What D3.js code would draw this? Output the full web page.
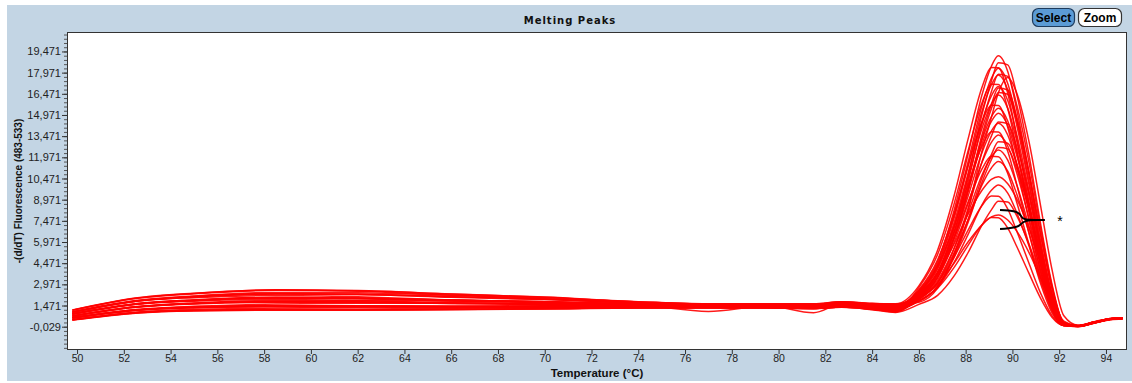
<!DOCTYPE html>
<html>
<head>
<meta charset="utf-8">
<script src="https://cdn.jsdelivr.net/npm/d3@7"></script>
<style>
  html, body { margin: 0; padding: 0; background: #fff; }
  svg { display: block; }
</style>
</head>
<body>
<div id="chart"></div>
<script>
const temps = [49.8, 52.5, 55, 58.5, 62, 66, 70, 74, 77, 79.5, 81.5, 82.7, 84, 85,
  86, 86.8, 87.5, 88.1, 88.7, 89.1, 89.4, 89.8, 90.2, 90.7, 91.2, 91.7, 92.2,
  92.8, 93.5, 94.2, 94.7];

// -(d/dT) fluorescence, one array per sample
const s01 = [.88,1.60,1.86,2.05,2.01,1.86,1.72,1.55,1.47,1.49,1.45,1.60,1.46,1.40, 2.54,4.59,8.18,12.17,16.40,18.42,19.17,18.05,15.22,10.87,6.08,2.20,0.15, 0.02,0.28,0.52,0.56];
const s02 = [.60,1.17,1.37,1.47,1.45,1.44,1.45,1.44,1.40,1.41,1.37,1.52,1.36,1.22, 2.14,3.78,6.93,10.66,15.01,17.38,18.68,18.52,16.31,12.21,7.31,2.92,0.24, -0.02,0.25,0.49,0.55];
const s03 = [1.14,1.98,2.33,2.58,2.53,2.28,2.05,1.72,1.58,1.57,1.56,1.72,1.60,1.58, 2.86,5.39,9.21,13.24,16.94,18.34,18.32,16.50,13.22,8.83,4.58,1.39,0.05, 0.04,0.30,0.55,0.60];
const s04 = [.46,.95,1.12,1.18,1.17,1.20,1.25,1.31,1.31,1.30,1.26,1.37,1.22,1.05, 2.47,4.42,7.82,11.62,15.64,17.57,18.28,17.21,14.52,10.37,5.81,2.10,0.10, 0.00,0.24,0.50,0.53];
const s05 = [.72,1.35,1.62,1.75,1.73,1.64,1.58,1.49,1.43,1.44,1.40,1.53,1.39,1.27, 2.09,3.65,6.64,10.21,14.35,16.62,17.86,17.71,15.59,11.68,7.00,2.80,0.23, 0.03,0.27,0.51,0.57];
const s06 = [1.00,1.78,2.12,2.33,2.29,2.10,1.92,1.67,1.55,1.53,1.52,1.69,1.57,1.50, 2.43,4.32,7.63,11.32,15.23,17.11,17.80,16.76,14.14,10.10,5.66,2.05,0.12, -0.01,0.22,0.47,0.52];
const s07 = [.58,1.13,1.33,1.42,1.41,1.39,1.39,1.38,1.35,1.34,1.30,1.41,1.27,1.12, 2.74,5.09,8.64,12.40,15.84,17.15,17.13,15.43,12.36,8.26,4.29,1.30,0.06, 0.05,0.31,0.54,0.58];
const s08 = [.86,1.57,1.83,2.00,1.95,1.80,1.67,1.50,1.43,1.43,1.40,1.54,1.41,1.30, 2.37,4.16,7.30,10.81,14.53,16.32,16.98,15.99,13.49,9.64,5.40,1.96,0.11, 0.01,0.26,0.50,0.55];
const s09 = [.74,1.38,1.65,1.82,1.83,1.78,1.71,1.60,1.52,1.52,1.50,1.65,1.53,1.45, 2.01,3.44,6.20,9.49,13.32,15.42,16.57,16.44,14.48,10.84,6.50,2.60,0.22, 0.02,0.29,0.53,0.59];
const s10 = [.47,.98,1.14,1.22,1.23,1.27,1.32,1.36,1.34,1.33,1.30,1.41,1.27,1.10, 2.32,4.04,7.07,10.45,14.03,15.75,16.39,15.44,13.03,9.31,5.22,1.89,0.11, -0.03,0.23,0.48,0.54];
const s11 = [1.02,1.80,2.08,2.28,2.25,2.06,1.89,1.65,1.53,1.55,1.54,1.66,1.55,1.48, 2.59,4.71,7.94,11.35,14.48,15.66,15.64,14.09,11.30,7.56,3.93,1.20,0.06, 0.03,0.28,0.52,0.57];
const s12 = [1.15,2.00,2.34,2.57,2.49,2.20,1.95,1.62,1.50,1.50,1.48,1.60,1.48,1.38, 2.25,3.85,6.69,9.86,13.22,14.84,15.44,14.54,12.28,8.78,4.93,1.79,0.10, 0.00,0.25,0.50,0.56];
const s13 = [.61,1.16,1.36,1.45,1.44,1.41,1.41,1.40,1.37,1.37,1.33,1.44,1.30,1.15, 1.89,3.10,5.48,8.33,11.65,13.47,14.47,14.36,12.65,9.49,5.70,2.28,0.20, 0.02,0.27,0.51,0.55];
const s14 = [.70,1.34,1.58,1.70,1.69,1.62,1.56,1.47,1.41,1.40,1.38,1.50,1.37,1.25, 2.16,3.64,6.26,9.20,12.32,13.83,14.38,13.55,11.44,8.18,4.60,1.67,0.10, 0.01,0.26,0.49,0.54];
const s15 = [.89,1.59,1.87,2.04,2.00,1.86,1.75,1.58,1.49,1.47,1.47,1.58,1.48,1.40, 2.40,4.24,7.05,10.02,12.75,13.78,13.76,12.40,9.95,6.66,3.48,1.06,0.05, 0.04,0.30,0.54,0.58];
const s16 = [.44,.93,1.09,1.14,1.14,1.17,1.22,1.29,1.29,1.31,1.24,1.34,1.19,1.02, 2.09,3.47,5.93,8.69,11.62,13.03,13.55,12.77,10.79,7.72,4.34,1.58,0.09, -0.02,0.24,0.48,0.53];
const s17 = [1.03,1.82,2.15,2.40,2.38,2.20,2.02,1.72,1.58,1.58,1.58,1.73,1.62,1.60, 1.80,2.87,5.00,7.55,10.53,12.16,13.07,12.97,11.43,8.58,5.16,2.07,0.18, 0.03,0.29,0.53,0.60];
const s18 = [.57,1.12,1.30,1.38,1.36,1.32,1.32,1.32,1.31,1.31,1.27,1.37,1.22,1.03, 2.01,3.26,5.51,8.03,10.72,12.01,12.49,11.77,9.95,7.12,4.01,1.46,0.09, 0.00,0.25,0.50,0.55];
const s19 = [.75,1.38,1.62,1.74,1.72,1.64,1.58,1.49,1.05,1.42,1.40,1.52,1.39,1.27, 2.22,3.80,6.22,8.78,11.15,12.04,12.02,10.83,8.70,5.84,3.05,0.94,0.05, 0.02,0.27,0.52,0.56];
const s20 = [.85,1.56,1.83,2.00,1.97,1.84,1.73,1.56,1.47,1.46,0.96,1.57,1.45,1.36, 1.94,3.09,5.18,7.52,10.02,11.22,11.67,11.00,9.30,6.67,3.76,1.37,0.08, 0.01,0.26,0.50,0.54];
const s21 = [.99,1.77,2.08,2.29,2.26,2.09,1.93,1.68,1.56,1.55,1.54,1.70,1.58,1.55, 2.28,3.73,5.81,7.92,9.64,10.41,10.60,10.10,8.98,7.02,4.59,2.21,0.37, 0.06,0.31,0.55,0.60];
const s22 = [.60,1.14,1.34,1.43,1.42,1.39,1.38,1.38,1.36,1.35,1.31,1.42,1.28,1.12, 1.81,2.76,4.51,6.49,8.61,9.63,10.01,9.44,7.99,5.74,3.24,1.19,0.08, 0.00,0.24,0.49,0.53];
const s23 = [.45,.96,1.11,1.16,1.16,1.19,1.24,1.30,1.30,1.29,1.25,1.36,1.18,0.98, 1.55,2.19,3.55,5.21,7.17,8.25,8.86,8.80,7.78,5.86,3.54,1.43,0.14, 0.03,0.28,0.52,0.57];
const s24 = [.73,1.37,1.61,1.72,1.70,1.62,1.56,1.47,1.42,1.43,1.39,1.50,1.36,1.20, 1.96,2.97,4.46,5.97,7.20,7.75,7.89,7.53,6.71,5.26,3.45,1.67,0.29, 0.05,0.30,0.54,0.59];
const s25 = [.87,1.57,1.84,2.01,1.98,1.85,1.74,1.57,1.48,1.48,1.46,1.58,1.44,1.25, 1.79,2.70,4.16,5.72,7.17,7.71,7.69,6.95,5.60,3.78,2.00,0.63,0.05, 0.01,0.26,0.51,0.55];
const s26 = [1.13,1.97,2.30,2.55,2.52,2.29,2.07,1.74,1.60,1.59,1.59,1.74,1.63,1.55, 1.71,2.70,5.09,8.20,12.42,14.80,16.54,17.63,16.45,13.15,8.59,3.96,0.75, 0.08,0.33,0.56,0.61];
const s27 = [.62,1.19,1.42,1.58,1.64,1.65,1.63,1.53,1.46,1.46,1.44,1.57,1.44,1.33, 2.03,3.49,6.31,9.66,13.57,15.71,16.88,16.74,14.74,11.04,6.62,2.65,0.22, 0.02,0.27,0.51,0.56];
const s28 = [1.00,1.76,2.03,2.18,2.09,1.87,1.70,1.52,1.44,1.43,1.41,1.53,1.40,1.30, 2.22,3.78,6.55,9.65,12.94,14.52,15.10,14.22,12.01,8.59,4.82,1.75,0.10, 0.00,0.25,0.50,0.55];
const s29 = [.48,1.00,1.20,1.30,1.35,1.40,1.45,1.45,1.41,1.41,1.38,1.50,1.36,1.22, 1.78,2.81,4.86,7.33,10.21,11.80,12.67,12.57,11.09,8.32,5.00,2.01,0.18, 0.03,0.28,0.53,0.58];
const s30 = [.88,1.55,1.78,1.90,1.82,1.66,1.55,1.44,1.38,1.38,1.33,1.45,1.30,1.14, 1.94,3.09,4.88,6.80,8.56,9.23,9.21,8.31,6.68,4.50,2.37,0.74,0.05, 0.02,0.27,0.52,0.56];

const samples = [s01, s02, s03, s04, s05, s06, s07, s08, s09, s10, s11, s12, s13, s14, s15,
  s16, s17, s18, s19, s20, s21, s22, s23, s24, s25, s26, s27, s28, s29, s30];

// axis ticks
const xTicks = [50, 52, 54, 56, 58, 60, 62, 64, 66, 68, 70, 72, 74, 76, 78, 80, 82, 84, 86, 88, 90, 92, 94];
const yTicks = [-0.029, 1.471, 2.971, 4.471, 5.971, 7.471, 8.971, 10.471, 11.971, 13.471, 14.971, 16.471, 17.971, 19.471];
const yTickLabels = ["-0,029", "1,471", "2,971", "4,471", "5,971", "7,471", "8,971", "10,471",
  "11,971", "13,471", "14,971", "16,471", "17,971", "19,471"];

// hand-drawn bracket marking the low-peak samples
const bracketTop = [[89.47, 8.24], [90.1, 8.14], [90.3, 7.95], [90.46, 7.65], [90.7, 7.55], [91.39, 7.53]];
const bracketBottom = [[89.47, 6.89], [90.1, 7.02], [90.3, 7.15], [90.46, 7.37], [90.75, 7.52], [91.1, 7.53]];
const starAt = [92.03, 7.53];

const W = 1132, H = 383;
const plot = {left: 67, top: 32, right: 1127, bottom: 350};

const svg = d3.select("#chart").append("svg")
  .attr("width", W)
  .attr("height", H);

// panel background
svg.append("rect")
  .attr("x", 7).attr("y", 5)
  .attr("width", W - 7).attr("height", H - 7)
  .attr("fill", "#c3d5e4");

svg.append("rect")
  .attr("x", plot.left).attr("y", plot.top)
  .attr("width", plot.right - plot.left).attr("height", plot.bottom - plot.top)
  .attr("fill", "#fff");

const x = d3.scaleLinear().domain([49.57, 94.9]).range([plot.left, plot.right]);
const y = d3.scaleLinear().domain([-1.68, 20.85]).range([plot.bottom, plot.top]);

svg.append("clipPath").attr("id", "clip")
  .append("rect")
  .attr("x", plot.left).attr("y", plot.top)
  .attr("width", plot.right - plot.left).attr("height", plot.bottom - plot.top);

const line = d3.line()
  .x((d, i) => x(temps[i]))
  .y(d => y(d))
  .curve(d3.curveMonotoneX);

svg.append("g")
  .attr("clip-path", "url(#clip)")
  .selectAll("path")
  .data(samples)
  .enter().append("path")
  .attr("d", line)
  .attr("fill", "none")
  .attr("stroke", "#ff0000")
  .attr("stroke-opacity", 0.9)
  .attr("stroke-width", 1.5);

// annotation
const bracket = d3.line()
  .x(d => x(d[0]))
  .y(d => y(d[1]))
  .curve(d3.curveMonotoneX);

svg.selectAll("path.bracket")
  .data([bracketTop, bracketBottom])
  .enter().append("path")
  .attr("class", "bracket")
  .attr("d", bracket)
  .attr("fill", "none")
  .attr("stroke", "#000")
  .attr("stroke-width", 2);

svg.append("text")
  .attr("x", x(starAt[0])).attr("y", y(starAt[1]) + 6)
  .attr("text-anchor", "middle")
  .attr("font-family", "Liberation Sans, Arial, sans-serif")
  .attr("font-size", 14)
  .attr("fill", "#000")
  .text("*");

// axes
const tickFont = "Liberation Sans, Arial, sans-serif";

const yMinor = d3.range(-1.529, 20.85, 0.3);
svg.append("g")
  .attr("transform", "translate(" + plot.left + ",0)")
  .call(d3.axisLeft(y).tickValues(yMinor).tickSize(3).tickFormat(""))
  .call(g => g.select(".domain").remove())
  .selectAll("line").attr("stroke", "#555");

const yAxis = svg.append("g")
  .attr("transform", "translate(" + plot.left + ",0)")
  .call(d3.axisLeft(y).tickValues(yTicks).tickSize(5).tickPadding(1)
    .tickFormat((d, i) => yTickLabels[i]));
yAxis.select(".domain").remove();
yAxis.selectAll("line").attr("stroke", "#333");
yAxis.selectAll("text")
  .attr("font-family", tickFont).attr("font-size", 11).attr("fill", "#222");

const xAxis = svg.append("g")
  .attr("transform", "translate(0," + plot.bottom + ")")
  .call(d3.axisBottom(x).tickValues(xTicks).tickSize(4).tickPadding(1).tickFormat(d3.format("d")));
xAxis.select(".domain").remove();
xAxis.selectAll("line").attr("stroke", "#333");
xAxis.selectAll("text")
  .attr("font-family", tickFont).attr("font-size", 10.5).attr("fill", "#222");

// plot frame
svg.append("rect")
  .attr("x", plot.left + 0.5).attr("y", plot.top + 0.5)
  .attr("width", plot.right - plot.left - 1).attr("height", plot.bottom - plot.top - 1)
  .attr("fill", "none")
  .attr("stroke", "#333");

// titles
svg.append("text")
  .attr("x", 570).attr("y", 24)
  .attr("text-anchor", "middle")
  .attr("font-family", "DejaVu Sans, sans-serif")
  .attr("font-weight", "bold")
  .attr("font-size", 10)
  .attr("letter-spacing", 1)
  .attr("fill", "#111")
  .text("Melting Peaks");

svg.append("text")
  .attr("x", (plot.left + plot.right) / 2).attr("y", 377)
  .attr("text-anchor", "middle")
  .attr("font-family", tickFont)
  .attr("font-weight", "bold")
  .attr("font-size", 11.5)
  .attr("fill", "#111")
  .text("Temperature (°C)");

svg.append("text")
  .attr("transform", "translate(22," + (plot.top + plot.bottom) / 2 + ") rotate(-90)")
  .attr("text-anchor", "middle")
  .attr("font-family", tickFont)
  .attr("font-weight", "bold")
  .attr("font-size", 10)
  .attr("fill", "#111")
  .text("-(d/dT) Fluorescence (483-533)");

// Select / Zoom buttons
const buttons = [
  {label: "Select", x: 1032, w: 42, fill: "#5b9bd5", stroke: "#1d3a5c"},
  {label: "Zoom", x: 1078, w: 43, fill: "#ffffff", stroke: "#333"}
];
const btn = svg.selectAll("g.btn").data(buttons).enter().append("g").attr("class", "btn");
btn.append("rect")
  .attr("x", d => d.x + 0.5).attr("y", 8.5)
  .attr("width", d => d.w).attr("height", 18)
  .attr("rx", 6)
  .attr("fill", d => d.fill)
  .attr("stroke", d => d.stroke)
  .attr("stroke-width", 1.2);
btn.append("text")
  .attr("x", d => d.x + d.w / 2 + 0.5).attr("y", 22)
  .attr("text-anchor", "middle")
  .attr("font-family", tickFont)
  .attr("font-weight", "bold")
  .attr("font-size", 12)
  .attr("fill", "#000")
  .text(d => d.label);
</script>
</body>
</html>
